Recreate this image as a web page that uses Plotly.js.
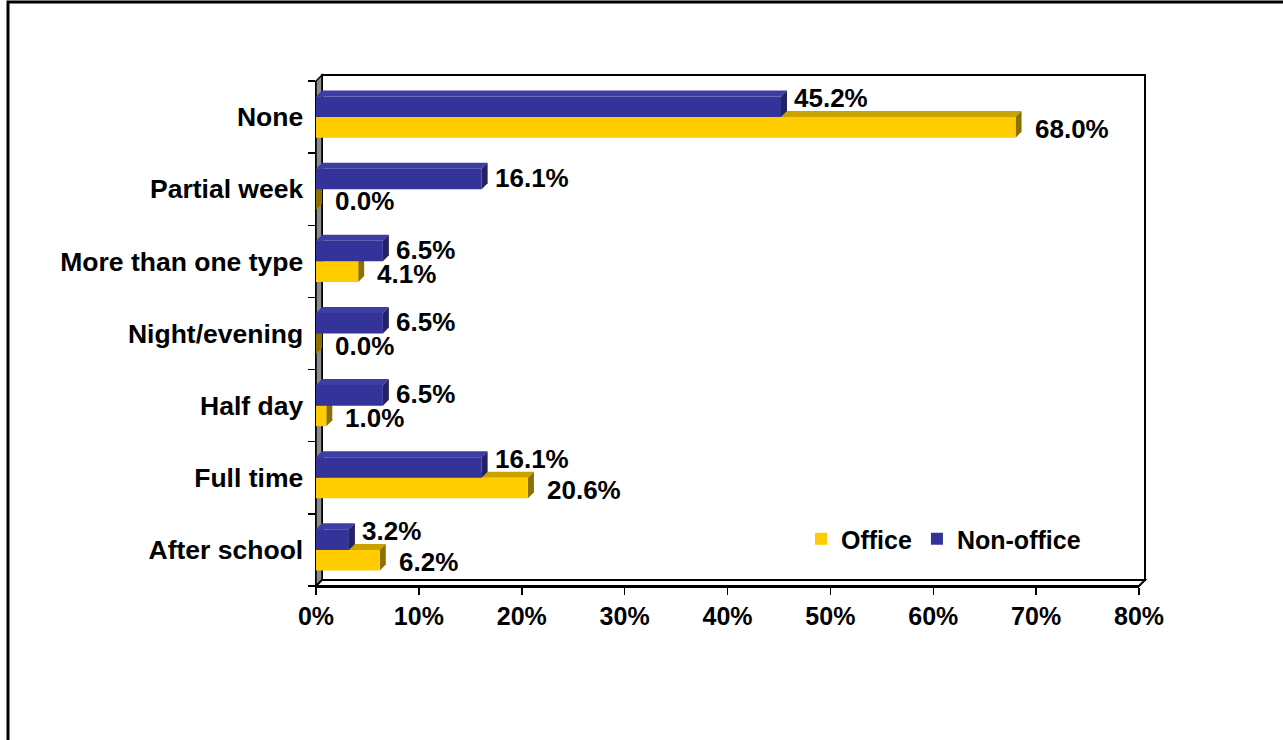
<!DOCTYPE html>
<html>
<head>
<meta charset="utf-8">
<script src="https://cdn.plot.ly/plotly-3.0.1.min.js"></script>
<style>html,body{margin:0;padding:0;background:#fff;}#chart{width:1283px;height:740px;}</style>
</head>
<body>
<div id="chart"></div>
<script>
// ---- data ----
const categories = ['None', 'Partial week', 'More than one type', 'Night/evening', 'Half day', 'Full time', 'After school'];
const office = [68.0, 0.0, 4.1, 0.0, 1.0, 20.6, 6.2];
const nonOffice = [45.2, 16.1, 6.5, 6.5, 6.5, 16.1, 3.2];
const xTickVals = [0, 10, 20, 30, 40, 50, 60, 70, 80];
const xTickText = ['0%', '10%', '20%', '30%', '40%', '50%', '60%', '70%', '80%'];
const seriesNames = ['Office', 'Non-office'];

// ---- styling / geometry ----
const W = 1283, H = 740;
const M = {l: 316, r: 144, t: 81, b: 154};
const plotW = W - M.l - M.r, plotH = H - M.t - M.b;
const xMax = 80;
const bargap = 0.43;
const barW = (1 - bargap) / 2;
const DX = 6, DY = 6; // 3D depth in px
const dxu = DX * xMax / plotW;
const dyu = DY * categories.length / plotH;
const FAM = 'Arial, "Liberation Sans", sans-serif';
const font = s => ({family: FAM, size: s, color: '#000', weight: 'bold'});
const colors = {
  office: {front: '#FFCC00', top: '#C9A200', side: '#8C7000'},
  non: {front: '#333399', top: '#3D3DA3', side: '#222266'}
};

const order = categories.slice().reverse(); // bottom-to-top
const idx = c => order.indexOf(c);
const px = p => (p - M.l) / plotW;
const py = p => (M.t + plotH - p) / plotH;

const shapes = [];
// outer frame (top and left)
shapes.push({type: 'path', xref: 'paper', yref: 'paper',
  path: `M${px(8)},${py(742)} L${px(8)},${py(2)} L${px(1285)},${py(2)}`,
  line: {color: '#000', width: 3}, layer: 'below'});
// back wall
shapes.push({type: 'rect', xref: 'paper', yref: 'paper',
  x0: px(M.l + DX), x1: px(M.l + plotW + DX), y0: py(M.t + plotH - DY), y1: py(M.t - DY),
  fillcolor: '#fff', line: {color: '#000', width: 2}, layer: 'below'});
// left wall
shapes.push({type: 'path', xref: 'paper', yref: 'paper',
  path: `M${px(M.l)},${py(M.t + plotH)} L${px(M.l)},${py(M.t)} L${px(M.l + DX)},${py(M.t - DY)} L${px(M.l + DX)},${py(M.t + plotH - DY)} Z`,
  fillcolor: '#8C8C8C', line: {color: '#000', width: 1.5}, layer: 'below'});
// floor
shapes.push({type: 'path', xref: 'paper', yref: 'paper',
  path: `M${px(M.l)},${py(M.t + plotH)} L${px(M.l + DX)},${py(M.t + plotH - DY)} L${px(M.l + plotW + DX)},${py(M.t + plotH - DY)} L${px(M.l + plotW)},${py(M.t + plotH)} Z`,
  fillcolor: '#fff', line: {color: '#000', width: 2}, layer: 'below'});

function faces(values, lower, col, layer) {
  values.forEach((v, k) => {
    const i = idx(categories[k]);
    const y0 = lower ? i - barW : i;
    const y1 = lower ? i : i + barW;
    shapes.push({type: 'path', xref: 'x', yref: 'y', layer: layer,
      path: `M0,${y1} L${v},${y1} L${v + dxu},${y1 + dyu} L${dxu},${y1 + dyu} Z`,
      fillcolor: col.top, line: {width: 0}});
    shapes.push({type: 'path', xref: 'x', yref: 'y', layer: layer,
      path: `M${v},${y0} L${v},${y1} L${v + dxu},${y1 + dyu} L${v + dxu},${y0 + dyu} Z`,
      fillcolor: col.side, line: {width: 0}});
  });
}
faces(office, true, colors.office, 'below');
faces(nonOffice, false, colors.non, 'above');

const annotations = [];
// Office labels (lower bar of each pair)
office.forEach((v, k) => {
  annotations.push({x: v, y: idx(categories[k]) - barW / 2, xref: 'x', yref: 'y',
    text: v.toFixed(1) + '%', showarrow: false, xanchor: 'left', yanchor: 'middle',
    xshift: DX + 11, yshift: -2, font: font(26)});
});
// Non-office labels (upper bar); lifted when the Office bar beneath is longer
nonOffice.forEach((v, k) => {
  annotations.push({x: v, y: idx(categories[k]) + barW / 2, xref: 'x', yref: 'y',
    text: v.toFixed(1) + '%', showarrow: false, xanchor: 'left', yanchor: 'middle',
    xshift: DX + 5, yshift: office[k] > v ? 9 : 1, font: font(26)});
});

const traces = [
  {type: 'bar', orientation: 'h', name: seriesNames[0], y: categories, x: office,
   marker: {color: colors.office.front, line: {width: 0}}, hoverinfo: 'skip'},
  {type: 'bar', orientation: 'h', name: seriesNames[1], y: categories, x: nonOffice,
   marker: {color: colors.non.front, line: {width: 0}}, hoverinfo: 'skip'}
];

const layout = {
  width: W, height: H,
  margin: M,
  paper_bgcolor: '#fff', plot_bgcolor: 'rgba(0,0,0,0)',
  barmode: 'group', bargap: bargap, bargroupgap: 0,
  font: font(25),
  showlegend: true,
  legend: {orientation: 'h', x: px(801), xanchor: 'left', y: py(539), yanchor: 'middle',
    font: font(25), bgcolor: 'rgba(0,0,0,0)', traceorder: 'normal'},
  xaxis: {range: [0, xMax], tickmode: 'array', tickvals: xTickVals, ticktext: xTickText,
    showgrid: false, zeroline: false, showline: true, linecolor: '#000', linewidth: 1.5,
    ticks: 'outside', ticklen: 7, tickwidth: 1.5, tickcolor: '#000', tickfont: font(25), fixedrange: true},
  yaxis: {type: 'category', categoryorder: 'array', categoryarray: order, range: [-0.5, order.length - 0.5],
    showgrid: false, zeroline: false, showline: true, linecolor: '#000', linewidth: 1.5,
    ticks: 'outside', tickson: 'boundaries', ticklen: 7, tickwidth: 1.5, tickcolor: '#000',
    ticklabelstandoff: 6, tickfont: font(26.5), fixedrange: true},
  shapes: shapes,
  annotations: annotations
};

Plotly.newPlot('chart', traces, layout, {staticPlot: true, displayModeBar: false});
</script>
</body>
</html>
